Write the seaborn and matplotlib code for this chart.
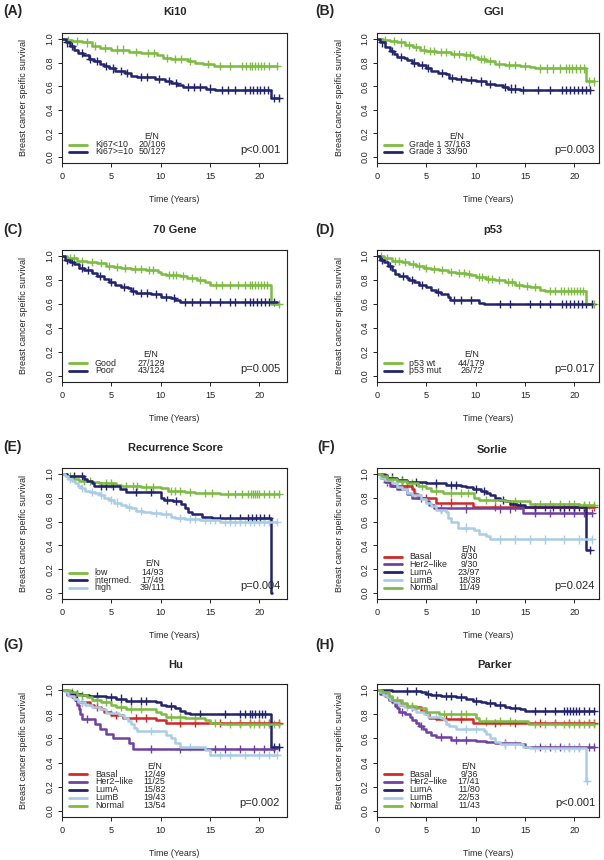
import numpy as np
import pandas as pd
import seaborn as sns
import matplotlib.pyplot as plt

GREEN = "#7dbb42"
NAVY = "#23246b"
LIGHT = "#a9cde4"
RED = "#cf2a2a"
PURPLE = "#6f42a0"

# ---- (A) Ki10 ----
ki10_names = ["Ki67<10", "Ki67>=10"]
ki10_counts = ["20/106", "50/127"]
ki10_low_t = [0, 0.3, 1.0, 2.0, 3.0, 3.9, 5.0, 6.8, 8.0, 9.6, 10.2, 11.0, 12.8, 13.5, 14.3, 15.4, 21.8]
ki10_low_s = [1.0, 0.99, 0.98, 0.97, 0.94, 0.92, 0.91, 0.89, 0.88, 0.86, 0.84, 0.83, 0.81, 0.80, 0.79, 0.77, 0.77]
ki10_low_c = [0.6, 1.5, 2.5, 3.3, 4.4, 5.6, 6.2, 7.5, 8.7, 9.3, 10.6, 11.4, 12.1, 13.0, 14.8, 16.0, 17.0,
              18.2, 18.6, 19.0, 19.3, 19.6, 19.9, 20.2, 20.5, 21.0, 21.8]
ki10_high_t = [0, 0.4, 0.8, 1.2, 1.6, 2.1, 2.7, 3.2, 3.8, 4.3, 4.8, 5.4, 6.4, 7.0, 7.6, 9.4, 10.4, 11.0,
               11.7, 12.3, 14.6, 15.5, 21.2, 22.0]
ki10_high_s = [1.0, 0.97, 0.94, 0.91, 0.88, 0.86, 0.83, 0.81, 0.79, 0.77, 0.75, 0.73, 0.71, 0.69, 0.68, 0.66,
               0.645, 0.63, 0.61, 0.595, 0.58, 0.57, 0.50, 0.50]
ki10_high_c = [0.5, 1.0, 2.0, 2.8, 3.5, 4.5, 5.2, 6.0, 6.6, 8.0, 8.6, 9.8, 10.8, 11.6, 12.8, 13.4, 14.0,
               15.0, 16.2, 16.8, 17.5, 18.5, 19.0, 19.4, 19.8, 20.1, 20.5, 20.9, 21.5, 22.0]

# ---- (B) GGI ----
ggi_names = ["Grade 1", "Grade 3"]
ggi_counts = ["37/163", "33/90"]
ggi_g1_t = [0, 0.6, 1.3, 2.0, 2.8, 3.6, 4.4, 5.0, 6.0, 7.5, 8.8, 9.7, 10.2, 11.0, 12.0, 13.0, 14.5, 15.5,
            16.0, 21.2, 22.0]
ggi_g1_s = [1.0, 0.99, 0.98, 0.97, 0.95, 0.93, 0.91, 0.90, 0.89, 0.875, 0.86, 0.845, 0.83, 0.81, 0.79, 0.78,
            0.77, 0.76, 0.75, 0.64, 0.64]
ggi_g1_c = [0.8, 1.7, 2.4, 3.2, 4.0, 4.8, 5.4, 5.8, 6.5, 7.0, 7.8, 8.3, 9.0, 9.4, 10.5, 10.8, 11.5, 12.4,
            13.4, 14.0, 15.0, 16.5, 17.2, 17.8, 18.5, 19.2, 19.5, 19.8, 20.2, 20.6, 21.0, 21.5, 22.0]
ggi_g3_t = [0, 0.3, 0.8, 1.3, 1.7, 2.0, 2.7, 3.0, 3.5, 4.2, 5.0, 5.5, 6.2, 7.0, 7.3, 8.0, 9.0, 10.0, 11.0,
            12.0, 12.8, 13.3, 14.5, 21.6]
ggi_g3_s = [1.0, 0.97, 0.93, 0.90, 0.87, 0.85, 0.84, 0.82, 0.80, 0.78, 0.755, 0.73, 0.71, 0.70, 0.67, 0.66,
            0.65, 0.64, 0.62, 0.61, 0.59, 0.58, 0.57, 0.57]
ggi_g3_c = [0.5, 1.5, 2.4, 3.8, 4.6, 5.2, 6.6, 7.6, 8.5, 9.5, 10.5, 11.5, 13.0, 13.6, 14.0, 14.8, 16.3,
            17.5, 18.8, 19.2, 19.6, 20.0, 20.4, 20.8, 21.2, 21.6]

# ---- (C) 70 Gene ----
g70_names = ["Good", "Poor"]
g70_counts = ["27/129", "43/124"]
g70_good_t = [0, 0.5, 1.5, 2.5, 3.5, 4.5, 5.3, 6.0, 7.0, 8.5, 9.7, 10.0, 10.5, 12.0, 12.7, 13.7, 14.5,
              15.0, 21.2, 22.0]
g70_good_s = [1.0, 0.98, 0.96, 0.95, 0.94, 0.92, 0.91, 0.90, 0.89, 0.88, 0.87, 0.85, 0.84, 0.83, 0.82,
              0.80, 0.78, 0.76, 0.60, 0.60]
g70_good_c = [0.8, 1.2, 2.0, 3.0, 4.0, 4.8, 5.6, 6.4, 7.4, 8.0, 8.8, 9.2, 10.8, 11.2, 11.6, 12.3, 13.2,
              14.0, 15.6, 16.2, 17.0, 17.8, 18.5, 19.0, 19.3, 19.6, 19.9, 20.2, 20.5, 20.8, 22.0]
g70_poor_t = [0, 0.3, 0.8, 1.2, 1.7, 2.2, 3.0, 3.5, 4.3, 4.8, 5.4, 6.0, 6.7, 7.0, 7.5, 9.0, 10.0, 11.0,
              11.5, 12.0, 21.8]
g70_poor_s = [1.0, 0.97, 0.95, 0.93, 0.90, 0.88, 0.86, 0.83, 0.81, 0.78, 0.76, 0.74, 0.73, 0.71, 0.69,
              0.68, 0.66, 0.65, 0.63, 0.62, 0.62]
g70_poor_c = [0.5, 1.0, 2.0, 2.6, 3.8, 5.0, 6.3, 7.2, 8.0, 8.6, 9.5, 10.5, 11.3, 12.5, 13.2, 14.0, 15.0,
              16.0, 17.0, 17.5, 18.5, 19.0, 19.4, 19.8, 20.2, 20.6, 21.0, 21.5]

# ---- (D) p53 ----
p53_names = ["p53 wt", "p53 mut"]
p53_counts = ["44/179", "26/72"]
p53_wt_t = [0, 0.7, 1.5, 2.5, 3.2, 4.0, 4.8, 5.5, 6.3, 7.2, 8.0, 9.0, 9.5, 10.0, 11.0, 12.0, 13.0, 14.0,
            14.8, 15.5, 16.5, 17.0, 21.2, 22.0]
p53_wt_s = [1.0, 0.98, 0.96, 0.95, 0.93, 0.92, 0.90, 0.89, 0.88, 0.87, 0.86, 0.85, 0.84, 0.825, 0.81,
            0.80, 0.78, 0.76, 0.75, 0.74, 0.72, 0.71, 0.60, 0.60]
p53_wt_c = [0.4, 1.0, 1.8, 2.2, 2.8, 3.6, 4.3, 5.0, 5.8, 6.6, 7.5, 8.3, 8.8, 9.3, 10.3, 10.6, 11.3, 11.7,
            12.4, 13.3, 13.7, 14.4, 15.2, 16.0, 17.5, 18.0, 18.6, 19.0, 19.4, 19.7, 20.0, 20.3, 20.6,
            20.9, 22.0]
p53_mut_t = [0, 0.3, 0.7, 1.1, 1.5, 1.8, 2.2, 3.0, 3.2, 3.8, 4.3, 5.0, 5.5, 6.0, 6.5, 7.2, 7.4, 10.3,
             10.8, 21.8]
p53_mut_s = [1.0, 0.97, 0.95, 0.92, 0.88, 0.85, 0.83, 0.82, 0.80, 0.78, 0.76, 0.74, 0.72, 0.70, 0.68,
             0.66, 0.63, 0.61, 0.60, 0.60]
p53_mut_c = [0.5, 1.3, 2.6, 3.5, 4.6, 6.2, 7.8, 8.5, 9.5, 12.5, 13.5, 15.5, 16.5, 17.5, 18.8, 19.2,
             19.6, 20.0, 20.4, 20.8, 21.2, 21.8]

# ---- (E) Recurrence Score ----
rs_names = ["low", "intermed.", "high"]
rs_counts = ["14/93", "17/49", "39/111"]
rs_low_t = [0, 0.5, 1.0, 1.7, 3.0, 3.7, 5.5, 6.0, 8.0, 10.0, 10.7, 12.5, 13.5, 16.0, 22.0]
rs_low_s = [1.0, 0.98, 0.96, 0.94, 0.93, 0.92, 0.91, 0.90, 0.89, 0.88, 0.86, 0.85, 0.84, 0.83, 0.83]
rs_low_c = [0.8, 2.2, 2.8, 4.5, 5.0, 6.5, 7.2, 7.6, 8.5, 9.2, 11.0, 11.5, 12.0, 13.0, 14.5, 15.2, 16.8,
            17.5, 18.2, 18.8, 19.2, 19.4, 19.6, 19.8, 20.0, 20.5, 21.0, 21.5, 22.0]
rs_mid_t = [0, 0.5, 2.2, 2.5, 3.0, 3.2, 5.9, 6.5, 10.0, 10.3, 11.2, 12.1, 12.5, 12.8, 13.2, 14.2, 15.2,
            21.2, 21.25]
rs_mid_s = [1.0, 0.98, 0.96, 0.94, 0.92, 0.90, 0.87, 0.85, 0.80, 0.78, 0.77, 0.75, 0.71, 0.68, 0.66,
            0.64, 0.63, 0.0, 0.0]
rs_mid_c = [1.2, 2.0, 4.0, 4.5, 5.2, 7.5, 9.0, 10.6, 11.6, 16.0, 17.0, 18.0, 18.8, 19.3, 19.7, 20.1,
            20.5, 21.0]
rs_high_t = [0, 0.3, 0.6, 1.0, 1.3, 1.6, 1.9, 2.3, 2.8, 3.3, 3.8, 4.3, 4.8, 5.3, 6.0, 6.5, 7.0, 7.5, 8.2,
             9.0, 10.0, 11.0, 11.5, 12.5, 14.0, 16.0, 21.8]
rs_high_s = [1.0, 0.98, 0.96, 0.94, 0.92, 0.90, 0.88, 0.86, 0.85, 0.84, 0.82, 0.80, 0.78, 0.76, 0.74,
             0.72, 0.71, 0.69, 0.68, 0.67, 0.66, 0.64, 0.63, 0.62, 0.61, 0.60, 0.60]
rs_high_c = [0.8, 2.0, 3.0, 4.0, 5.0, 5.6, 6.8, 8.0, 9.5, 10.5, 12.0, 13.0, 13.5, 14.5, 15.0, 15.5,
             16.5, 17.0, 17.5, 18.0, 18.5, 19.0, 19.5, 20.0, 20.5, 21.0, 21.8]

# ---- subtype panels (F, G, H) ----
subtype_names = ["Basal", "Her2\u2212like", "LumA", "LumB", "Normal"]

sorlie_counts = ["8/30", "9/30", "23/97", "18/38", "11/49"]
sorlie_basal_t = [0, 0.8, 1.2, 1.5, 3.5, 3.8, 4.2, 6.0, 9.7, 22.0]
sorlie_basal_s = [1.0, 0.97, 0.93, 0.90, 0.87, 0.83, 0.80, 0.76, 0.72, 0.72]
sorlie_basal_c = [2.5, 3.0, 5.0, 7.5, 12.0, 14.0, 16.0, 18.5, 20.0, 21.0, 22.0]
sorlie_her2_t = [0, 0.4, 0.8, 1.3, 2.0, 3.0, 3.5, 5.0, 5.3, 5.8, 14.8, 21.8]
sorlie_her2_s = [1.0, 0.97, 0.93, 0.90, 0.87, 0.83, 0.80, 0.77, 0.74, 0.71, 0.67, 0.67]
sorlie_her2_c = [1.0, 4.5, 6.5, 9.0, 12.5, 13.5, 16.0, 17.5, 19.0, 20.0, 21.0, 21.8]
sorlie_luma_t = [0, 0.5, 1.0, 2.0, 3.0, 5.0, 7.0, 8.5, 9.0, 9.7, 10.5, 11.0, 11.5, 12.0, 12.5, 13.0, 13.5,
                 14.2, 15.0, 21.2, 21.6]
sorlie_luma_s = [1.0, 0.99, 0.97, 0.95, 0.93, 0.92, 0.91, 0.90, 0.89, 0.87, 0.86, 0.84, 0.82, 0.80, 0.78,
                 0.77, 0.75, 0.74, 0.72, 0.36, 0.36]
sorlie_luma_c = [1.5, 2.5, 4.0, 6.0, 7.5, 8.0, 10.0, 10.8, 12.8, 13.8, 14.5, 16.0, 17.0, 17.8, 18.5, 19.0,
                 19.5, 20.0, 20.5, 21.0, 21.6]
sorlie_lumb_t = [0, 0.3, 0.8, 1.5, 2.0, 2.5, 3.0, 3.5, 4.5, 5.0, 5.5, 6.0, 7.0, 7.2, 7.5, 8.2, 9.8, 10.3,
                 11.0, 11.5, 21.8]
sorlie_lumb_s = [1.0, 0.97, 0.95, 0.92, 0.89, 0.87, 0.84, 0.82, 0.79, 0.76, 0.73, 0.70, 0.68, 0.63, 0.60,
                 0.55, 0.53, 0.50, 0.48, 0.45, 0.45]
sorlie_lumb_c = [1.0, 4.0, 6.5, 9.0, 12.5, 14.0, 15.5, 17.0, 19.0, 20.5, 21.8]
sorlie_norm_t = [0, 0.5, 1.0, 2.0, 3.0, 4.2, 5.0, 5.5, 6.7, 9.8, 10.3, 13.0, 15.5, 20.5, 22.0]
sorlie_norm_s = [1.0, 0.98, 0.96, 0.94, 0.92, 0.90, 0.88, 0.86, 0.84, 0.80, 0.78, 0.77, 0.75, 0.74, 0.74]
sorlie_norm_c = [1.5, 2.5, 3.5, 4.6, 6.0, 7.5, 8.5, 9.2, 11.0, 12.0, 14.0, 16.5, 17.5, 18.5, 19.5, 20.0,
                 21.0, 21.5, 22.0]

hu_counts = ["12/49", "11/25", "15/82", "19/43", "13/54"]
hu_basal_t = [0, 0.5, 0.8, 1.0, 1.3, 1.5, 2.8, 3.2, 4.0, 4.3, 5.0, 6.2, 9.5, 10.5, 22.0]
hu_basal_s = [1.0, 0.98, 0.96, 0.94, 0.92, 0.90, 0.88, 0.86, 0.84, 0.82, 0.79, 0.77, 0.75, 0.73, 0.73]
hu_basal_c = [2.0, 3.5, 5.5, 7.5, 8.5, 12.0, 13.5, 16.0, 18.0, 19.0, 20.0, 21.0, 22.0]
hu_her2_t = [0, 0.5, 1.3, 1.5, 1.7, 1.8, 2.0, 3.3, 3.8, 4.5, 5.2, 6.8, 7.2, 21.5]
hu_her2_s = [1.0, 0.96, 0.92, 0.88, 0.84, 0.80, 0.76, 0.72, 0.68, 0.64, 0.60, 0.56, 0.51, 0.51]
hu_her2_c = [2.5, 9.0, 12.0, 15.5, 16.5, 18.0, 19.5, 20.5, 21.5]
hu_luma_t = [0, 0.3, 1.0, 2.0, 2.7, 4.5, 5.5, 6.5, 9.5, 10.0, 10.5, 11.5, 12.0, 12.5, 13.0, 21.2, 22.0]
hu_luma_s = [1.0, 0.99, 0.97, 0.96, 0.95, 0.94, 0.93, 0.91, 0.90, 0.88, 0.87, 0.85, 0.83, 0.81, 0.80,
             0.53, 0.53]
hu_luma_c = [1.5, 3.5, 5.0, 6.0, 7.0, 8.0, 8.5, 11.0, 14.0, 16.5, 18.0, 18.5, 19.0, 19.3, 19.6, 20.0,
             20.3, 20.6, 21.5, 22.0]
hu_lumb_t = [0, 0.3, 0.6, 1.2, 1.6, 2.3, 3.0, 3.8, 4.5, 5.8, 6.3, 6.7, 7.0, 7.3, 7.6, 10.5, 11.0, 11.5,
             12.0, 14.5, 15.0, 21.8]
hu_lumb_s = [1.0, 0.98, 0.95, 0.93, 0.90, 0.88, 0.86, 0.84, 0.81, 0.79, 0.77, 0.74, 0.72, 0.69, 0.66,
             0.63, 0.60, 0.56, 0.53, 0.50, 0.46, 0.46]
hu_lumb_c = [2.0, 5.0, 9.0, 13.0, 16.0, 17.0, 18.5, 20.0, 21.0, 21.8]
hu_norm_t = [0, 0.8, 1.5, 2.5, 3.0, 4.0, 5.0, 5.5, 6.5, 9.5, 10.0, 10.5, 12.5, 14.5, 15.0, 16.0, 22.0]
hu_norm_s = [1.0, 0.98, 0.96, 0.94, 0.92, 0.90, 0.88, 0.86, 0.84, 0.82, 0.80, 0.78, 0.77, 0.75, 0.73,
             0.72, 0.72]
hu_norm_c = [1.0, 2.0, 3.5, 4.5, 6.0, 7.0, 8.0, 11.0, 12.0, 13.5, 15.5, 17.0, 18.0, 19.0, 19.5, 20.0,
             20.5, 21.0, 21.5, 22.0]

parker_counts = ["9/36", "17/41", "11/80", "22/53", "11/43"]
parker_basal_t = [0, 0.5, 1.0, 1.5, 2.3, 3.0, 4.5, 5.0, 5.3, 6.0, 9.7, 22.0]
parker_basal_s = [1.0, 0.97, 0.94, 0.91, 0.88, 0.86, 0.83, 0.80, 0.77, 0.76, 0.73, 0.73]
parker_basal_c = [2.0, 3.5, 7.0, 8.5, 12.0, 14.0, 16.5, 18.0, 19.5, 20.5, 21.5, 22.0]
parker_her2_t = [0, 0.3, 0.8, 1.2, 1.5, 1.8, 2.0, 2.2, 2.8, 3.3, 3.5, 4.0, 4.3, 4.7, 5.0, 5.5, 6.0, 7.5,
                 10.0, 11.0, 12.0, 14.5, 15.0, 22.0]
parker_her2_s = [1.0, 0.97, 0.95, 0.92, 0.90, 0.87, 0.85, 0.82, 0.80, 0.78, 0.75, 0.73, 0.70, 0.68, 0.65,
                 0.63, 0.61, 0.59, 0.58, 0.57, 0.56, 0.55, 0.53, 0.53]
parker_her2_c = [2.5, 4.5, 6.5, 8.0, 9.0, 13.0, 16.5, 17.5, 18.5, 19.5, 20.5, 21.5, 22.0]
parker_luma_t = [0, 1.5, 4.5, 5.0, 5.5, 6.5, 8.0, 9.0, 9.7, 10.5, 11.0, 12.0, 13.0, 13.5, 14.5, 15.0, 22.0]
parker_luma_s = [1.0, 0.99, 0.98, 0.97, 0.96, 0.95, 0.94, 0.93, 0.91, 0.90, 0.89, 0.88, 0.86, 0.85, 0.84,
                 0.83, 0.83]
parker_luma_c = [3.0, 4.0, 5.2, 6.0, 7.0, 7.5, 8.5, 10.0, 11.5, 12.5, 14.0, 16.0, 17.0, 18.0, 19.0, 19.3,
                 19.6, 19.9, 20.2, 20.5, 21.0, 21.5, 22.0]
parker_lumb_t = [0, 0.3, 0.6, 1.0, 1.3, 1.7, 2.2, 2.8, 3.5, 4.0, 4.8, 5.2, 6.5, 6.8, 7.0, 7.3, 8.0, 10.8,
                 11.0, 11.5, 12.0, 12.5, 14.8, 15.5, 21.2, 21.25]
parker_lumb_s = [1.0, 0.98, 0.96, 0.94, 0.92, 0.90, 0.88, 0.86, 0.84, 0.82, 0.80, 0.78, 0.77, 0.75, 0.72,
                 0.70, 0.68, 0.66, 0.64, 0.60, 0.57, 0.55, 0.53, 0.52, 0.25, 0.25]
parker_lumb_c = [1.5, 3.0, 6.0, 9.0, 10.0, 13.0, 14.0, 16.0, 17.0, 18.0, 19.0, 19.5, 20.0, 20.5, 21.25]
parker_norm_t = [0, 0.5, 1.2, 1.5, 2.5, 3.0, 4.0, 5.0, 6.3, 10.0, 10.3, 15.3, 22.0]
parker_norm_s = [1.0, 0.98, 0.95, 0.92, 0.89, 0.87, 0.85, 0.82, 0.80, 0.77, 0.74, 0.72, 0.72]
parker_norm_c = [2.0, 3.5, 6.8, 7.5, 8.5, 9.0, 11.0, 12.5, 13.5, 16.0, 17.0, 18.0, 19.0, 19.5, 20.0, 20.5,
                 21.0, 21.5, 22.0]

p_values = ["p<0.001", "p=0.003", "p=0.005", "p=0.017", "p=0.004", "p=0.024", "p=0.002", "p<0.001"]

panels = [
    dict(tag="(A)", title="Ki10", names=ki10_names, counts=ki10_counts, colors=[GREEN, NAVY],
         curves=[(ki10_low_t, ki10_low_s, ki10_low_c), (ki10_high_t, ki10_high_s, ki10_high_c)]),
    dict(tag="(B)", title="GGI", names=ggi_names, counts=ggi_counts, colors=[GREEN, NAVY],
         curves=[(ggi_g1_t, ggi_g1_s, ggi_g1_c), (ggi_g3_t, ggi_g3_s, ggi_g3_c)]),
    dict(tag="(C)", title="70 Gene", names=g70_names, counts=g70_counts, colors=[GREEN, NAVY],
         curves=[(g70_good_t, g70_good_s, g70_good_c), (g70_poor_t, g70_poor_s, g70_poor_c)]),
    dict(tag="(D)", title="p53", names=p53_names, counts=p53_counts, colors=[GREEN, NAVY],
         curves=[(p53_wt_t, p53_wt_s, p53_wt_c), (p53_mut_t, p53_mut_s, p53_mut_c)]),
    dict(tag="(E)", title="Recurrence Score", names=rs_names, counts=rs_counts, colors=[GREEN, NAVY, LIGHT],
         curves=[(rs_low_t, rs_low_s, rs_low_c), (rs_mid_t, rs_mid_s, rs_mid_c),
                 (rs_high_t, rs_high_s, rs_high_c)]),
    dict(tag="(F)", title="Sorlie", names=subtype_names, counts=sorlie_counts,
         colors=[RED, PURPLE, NAVY, LIGHT, GREEN],
         curves=[(sorlie_basal_t, sorlie_basal_s, sorlie_basal_c), (sorlie_her2_t, sorlie_her2_s, sorlie_her2_c),
                 (sorlie_luma_t, sorlie_luma_s, sorlie_luma_c), (sorlie_lumb_t, sorlie_lumb_s, sorlie_lumb_c),
                 (sorlie_norm_t, sorlie_norm_s, sorlie_norm_c)]),
    dict(tag="(G)", title="Hu", names=subtype_names, counts=hu_counts,
         colors=[RED, PURPLE, NAVY, LIGHT, GREEN],
         curves=[(hu_basal_t, hu_basal_s, hu_basal_c), (hu_her2_t, hu_her2_s, hu_her2_c),
                 (hu_luma_t, hu_luma_s, hu_luma_c), (hu_lumb_t, hu_lumb_s, hu_lumb_c),
                 (hu_norm_t, hu_norm_s, hu_norm_c)]),
    dict(tag="(H)", title="Parker", names=subtype_names, counts=parker_counts,
         colors=[RED, PURPLE, NAVY, LIGHT, GREEN],
         curves=[(parker_basal_t, parker_basal_s, parker_basal_c), (parker_her2_t, parker_her2_s, parker_her2_c),
                 (parker_luma_t, parker_luma_s, parker_luma_c), (parker_lumb_t, parker_lumb_s, parker_lumb_c),
                 (parker_norm_t, parker_norm_s, parker_norm_c)]),
]

# layout in pixels (604 x 860 canvas)
W, H = 604, 860
row_box = [(33, 163), (250, 382), (468, 599), (684, 817)]
col_box = [(62, 287, 22.8), (377, 599, 22.5)]
tag_pos = [(3, 11), (315, 11), (3, 230), (315, 230), (3, 447), (317, 447), (3, 645), (315, 645)]
title_pos = [(175, 12), (494, 12), (175, 230), (493, 230), (175, 448), (492, 450), (176, 665), (495, 665)]
legend_rows = {2: (0.205, [0.142, 0.085]),
               3: (0.273, [0.201, 0.145, 0.086]),
               5: (0.378, [0.322, 0.264, 0.205, 0.145, 0.084])}
count_x = [0.40, 0.36, 0.396, 0.425, 0.402, 0.415, 0.41, 0.414]


def km_frames(names, curves):
    """long-format step curve and censor tables for one panel"""
    lines, marks = [], []
    for name, (t, s, c) in zip(names, curves):
        t = np.asarray(t, float)
        s = np.asarray(s, float)
        c = np.asarray(c, float)
        lines.append(pd.DataFrame({"time": t, "surv": s, "group": name}))
        idx = np.clip(np.searchsorted(t, c, side="right") - 1, 0, len(s) - 1)
        marks.append(pd.DataFrame({"time": c, "surv": s[idx], "group": name}))
    return pd.concat(lines, ignore_index=True), pd.concat(marks, ignore_index=True)


sns.set_style("ticks")
plt.rcParams["font.family"] = ["Liberation Sans", "DejaVu Sans"]
plt.rcParams["axes.linewidth"] = 0.8

fig = plt.figure(figsize=(W / 100, H / 100), dpi=100)

for i, p in enumerate(panels):
    r, c = divmod(i, 2)
    top, bot = row_box[r]
    left, right, xmax = col_box[c]
    ax = fig.add_axes([left / W, 1 - bot / H, (right - left) / W, (bot - top) / H])
    pal = dict(zip(p["names"], p["colors"]))
    lines, marks = km_frames(p["names"], p["curves"])

    sns.lineplot(data=lines, x="time", y="surv", hue="group", palette=pal, hue_order=p["names"],
                 estimator=None, sort=False, drawstyle="steps-post", lw=1.8, legend=False, ax=ax)
    sns.scatterplot(data=marks, x="time", y="surv", hue="group", palette=pal, hue_order=p["names"],
                    marker="+", s=34, linewidth=1.0, legend=False, ax=ax)

    ax.set_xlim(0, xmax)
    ax.set_ylim(-0.05, 1.05)
    ax.set_xticks([0, 5, 10, 15, 20])
    ax.set_yticks([0, 0.2, 0.4, 0.6, 0.8, 1.0])
    ax.set_yticklabels(["0.0", "0.2", "0.4", "0.6", "0.8", "1.0"])
    ax.tick_params(axis="both", direction="out", length=3, width=0.7, labelsize=6.6, colors="#222222")
    ax.tick_params(axis="x", pad=3.5)
    ax.tick_params(axis="y", pad=2.5)
    for lab in ax.get_yticklabels():
        lab.set_rotation(90)
        lab.set_va("center")
    for sp in ax.spines.values():
        sp.set_visible(True)
        sp.set_color("#222222")
    ax.set_xlabel("")
    ax.set_ylabel("")
    wpx = right - left
    hpx = bot - top
    ax.text(-38 / wpx, 0.5, "Breast cancer speific survival", rotation=90, ha="center", va="center",
            fontsize=6.5, transform=ax.transAxes)
    ax.text(0.5, -37 / hpx, "Time (Years)", ha="center", va="center", fontsize=6.4,
            transform=ax.transAxes)

    # legend block
    n = len(p["names"])
    head_y, rows_y = legend_rows[n]
    cx = count_x[i]
    ax.text(cx, head_y, "E/N", ha="center", va="center", fontsize=6.4, transform=ax.transAxes)
    for name, cnt, col, yy in zip(p["names"], p["counts"], p["colors"], rows_y):
        ax.plot([0.032, 0.112], [yy, yy], color=col, lw=2.0, transform=ax.transAxes, clip_on=False)
        ax.text(0.146, yy, name, ha="left", va="center", fontsize=6.4, transform=ax.transAxes)
        ax.text(cx, yy, cnt, ha="center", va="center", fontsize=6.4, transform=ax.transAxes)
    ax.text(22.1, 0.037, p_values[i], ha="right", va="baseline", fontsize=8)

    tx, ty = tag_pos[i]
    fig.text(tx / W, 1 - ty / H, p["tag"], ha="left", va="center", fontsize=10, fontweight="bold")
    hx, hy = title_pos[i]
    fig.text(hx / W, 1 - hy / H, p["title"], ha="center", va="center", fontsize=8, fontweight="bold")

fig.savefig("out.png", dpi=100)
